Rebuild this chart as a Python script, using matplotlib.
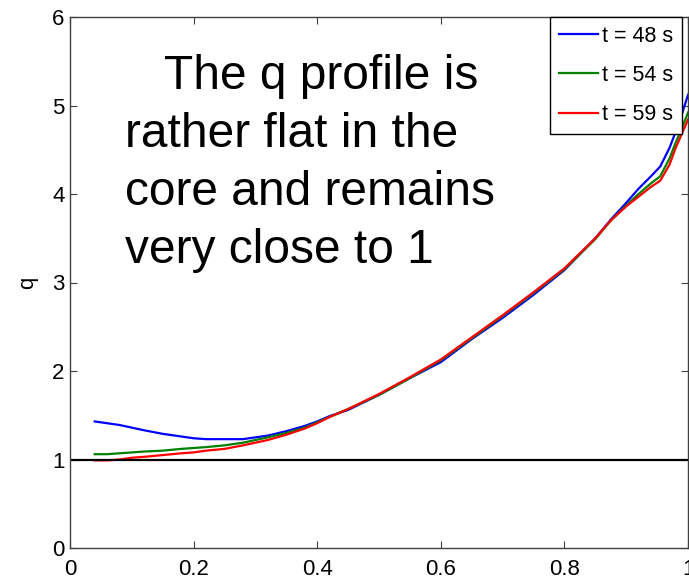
import matplotlib
matplotlib.use("Agg")
import matplotlib.pyplot as plt

plt.rcParams['font.family'] = ['Liberation Sans', 'DejaVu Sans']

# Normalised radius grid and safety-factor profiles at three times
rho = [0.04, 0.06, 0.08, 0.10, 0.12, 0.15, 0.18, 0.20, 0.22, 0.25, 0.28, 0.30,
       0.32, 0.35, 0.38, 0.40, 0.42, 0.45, 0.50, 0.55, 0.60, 0.65, 0.70, 0.75,
       0.80, 0.85, 0.875, 0.90, 0.92, 0.94, 0.955, 0.97, 0.98, 0.99, 1.0]

q_48 = [1.43, 1.41, 1.39, 1.36, 1.33, 1.29, 1.26, 1.24, 1.23, 1.23, 1.23, 1.25,
        1.27, 1.32, 1.38, 1.43, 1.49, 1.56, 1.73, 1.92, 2.10, 2.36, 2.60, 2.86,
        3.14, 3.50, 3.71, 3.90, 4.06, 4.20, 4.31, 4.52, 4.70, 4.90, 5.12]

q_54 = [1.06, 1.06, 1.07, 1.08, 1.09, 1.10, 1.12, 1.13, 1.14, 1.16, 1.19, 1.22,
        1.25, 1.30, 1.36, 1.42, 1.48, 1.57, 1.73, 1.92, 2.12, 2.37, 2.62, 2.88,
        3.15, 3.49, 3.70, 3.87, 4.00, 4.12, 4.20, 4.40, 4.58, 4.74, 4.92]

q_59 = [0.99, 0.99, 1.00, 1.02, 1.03, 1.05, 1.07, 1.08, 1.10, 1.12, 1.16, 1.19,
        1.22, 1.28, 1.35, 1.41, 1.48, 1.57, 1.74, 1.93, 2.13, 2.38, 2.63, 2.89,
        3.16, 3.50, 3.70, 3.86, 3.97, 4.08, 4.15, 4.33, 4.52, 4.68, 4.84]

series_labels = ['t = 48 s', 't = 54 s', 't = 59 s']
series_colors = ['#0000ff', '#008000', '#ff0000']

x_ticks = [0, 0.2, 0.4, 0.6, 0.8, 1]
x_tick_labels = ['0', '0.2', '0.4', '0.6', '0.8', '1']
y_ticks = [0, 1, 2, 3, 4, 5, 6]

note = ("   The q profile is\n"
        "rather flat in the\n"
        "core and remains\n"
        "very close to 1")

fig = plt.figure(figsize=(6.89, 5.79), dpi=100)
ax = fig.add_axes([70 / 689, 31 / 579, 618 / 689, 531 / 579])

for q, lab, col in zip([q_48, q_54, q_59], series_labels, series_colors):
    ax.plot(rho, q, color=col, lw=1.6, label=lab)

ax.axhline(1, color='black', lw=1.6)

ax.set_xlim(0, 1)
ax.set_ylim(0, 6)
ax.set_xticks(x_ticks)
ax.set_xticklabels(x_tick_labels)
ax.set_yticks(y_ticks)
ax.tick_params(direction='in', length=5, width=0.8, labelsize=16,
               top=True, right=True, colors='#404040', labelcolor='black')
ax.tick_params(axis='x', pad=8)
ax.tick_params(axis='y', pad=4)
for s in ax.spines.values():
    s.set_color('#404040')
    s.set_linewidth(1.0)

ax.set_ylabel('q', fontsize=16, labelpad=10)

ax.text(0.089, 0.93, note, transform=ax.transAxes, fontsize=34.5,
        va='top', ha='left', linespacing=1.37)

leg = ax.legend(loc='upper right', bbox_to_anchor=(0.99, 1.0),
                borderaxespad=0, fontsize=15.5, fancybox=False,
                edgecolor='black', framealpha=1, handlelength=1.8,
                handletextpad=0.2, labelspacing=0.85, borderpad=0.4)
leg.get_frame().set_linewidth(1.0)

fig.savefig('out.png', dpi=100)
